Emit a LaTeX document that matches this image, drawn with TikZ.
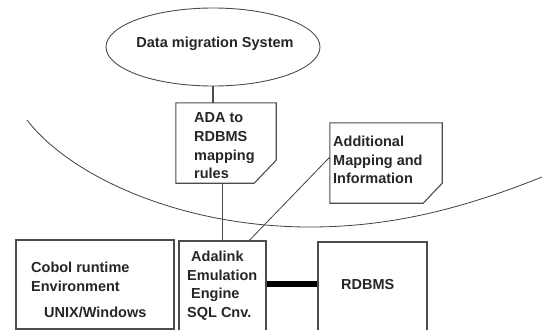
\documentclass[tikz,border=0pt]{standalone}
\usepackage{fontspec}
\setmainfont{Liberation Sans}
\usetikzlibrary{shapes.geometric}

\begin{document}
\begin{tikzpicture}[x=1pt,y=-1pt,
	box/.style={rectangle,inner sep=0pt},
	txt/.style={inner sep=0pt,align=left,text=black!85,font=\fontsize{14.5}{18.7}\selectfont\bfseries},
	edge/.style={draw=black!70,line width=1.1pt}]
	\useasboundingbox (0,0) rectangle (542,330);
	%SYSTEM
	\node[ellipse,draw=black!70,line width=0.9pt,minimum width=214pt,minimum height=78pt] (dms) at (213,47) {};
	\node[txt,anchor=base] (dmstext) at (215,47) {Data migration System};
	\draw[black!75,line width=0.8pt] (27,120) .. controls (70,176) and (180,227) .. (310,227)
		.. controls (390,227) and (462,209) .. (542,177);		%boundary
	%MAPPING BOXES
	\node[box,minimum width=100pt,minimum height=80pt] (ada) at (226,143) {};
	\draw[edge] (ada.north west) -- (ada.north east) -- ([yshift=23]ada.south east)
		-- ([xshift=-22]ada.south east) -- (ada.south west) -- cycle;
	\node[txt,anchor=north west] (adatext) at (194,112.6) {ADA to\\RDBMS\\mapping\\rules};
	\node[box,minimum width=112pt,minimum height=80pt] (add) at (386,163) {};
	\draw[edge] (add.north west) -- (add.north east) -- ([yshift=20]add.south east)
		-- ([xshift=-19]add.south east) -- (add.south west) -- cycle;
	\node[txt,anchor=north west] (addtext) at (333,135.6) {Additional\\Mapping and\\Information};
	%RUNTIME
	\node[box,draw=black!70,line width=1.1pt,minimum width=158pt,minimum height=89pt] (cobol) at (95,284.5) {};
	\node[txt,anchor=north west] (coboltext) at (31,261.6) {Cobol runtime\\Environment\\[7.5pt]\hspace{13pt}UNIX/Windows};
	\node[box,draw=black!70,line width=1.1pt,minimum width=87pt,minimum height=104pt] (adalink) at (222.5,293) {};
	\node[txt,anchor=north west] (adalinktext) at (187,250.6) {\hspace{4pt}Adalink\\Emulation\\\hspace{4pt}Engine\\SQL Cnv.};
	\node[box,draw=black!70,line width=1.1pt,minimum width=109pt,minimum height=103pt] (rdbms) at (372.5,293.5) {};
	\node[txt,anchor=base west] (rdbmstext) at (341,289) {RDBMS};
	%LINKS
	\draw[edge] (dms.south) -- (dms.south |- ada.north);
	\draw[edge] (adalink.north |- ada.south) -- (adalink.north);
	\draw[black!75,line width=0.8pt] (adalink.63) -- (add.174);
	\draw[black,line width=5.5pt] (adalink.east |- rdbmstext) -- (rdbms.west |- rdbmstext);
\end{tikzpicture}
\end{document}
